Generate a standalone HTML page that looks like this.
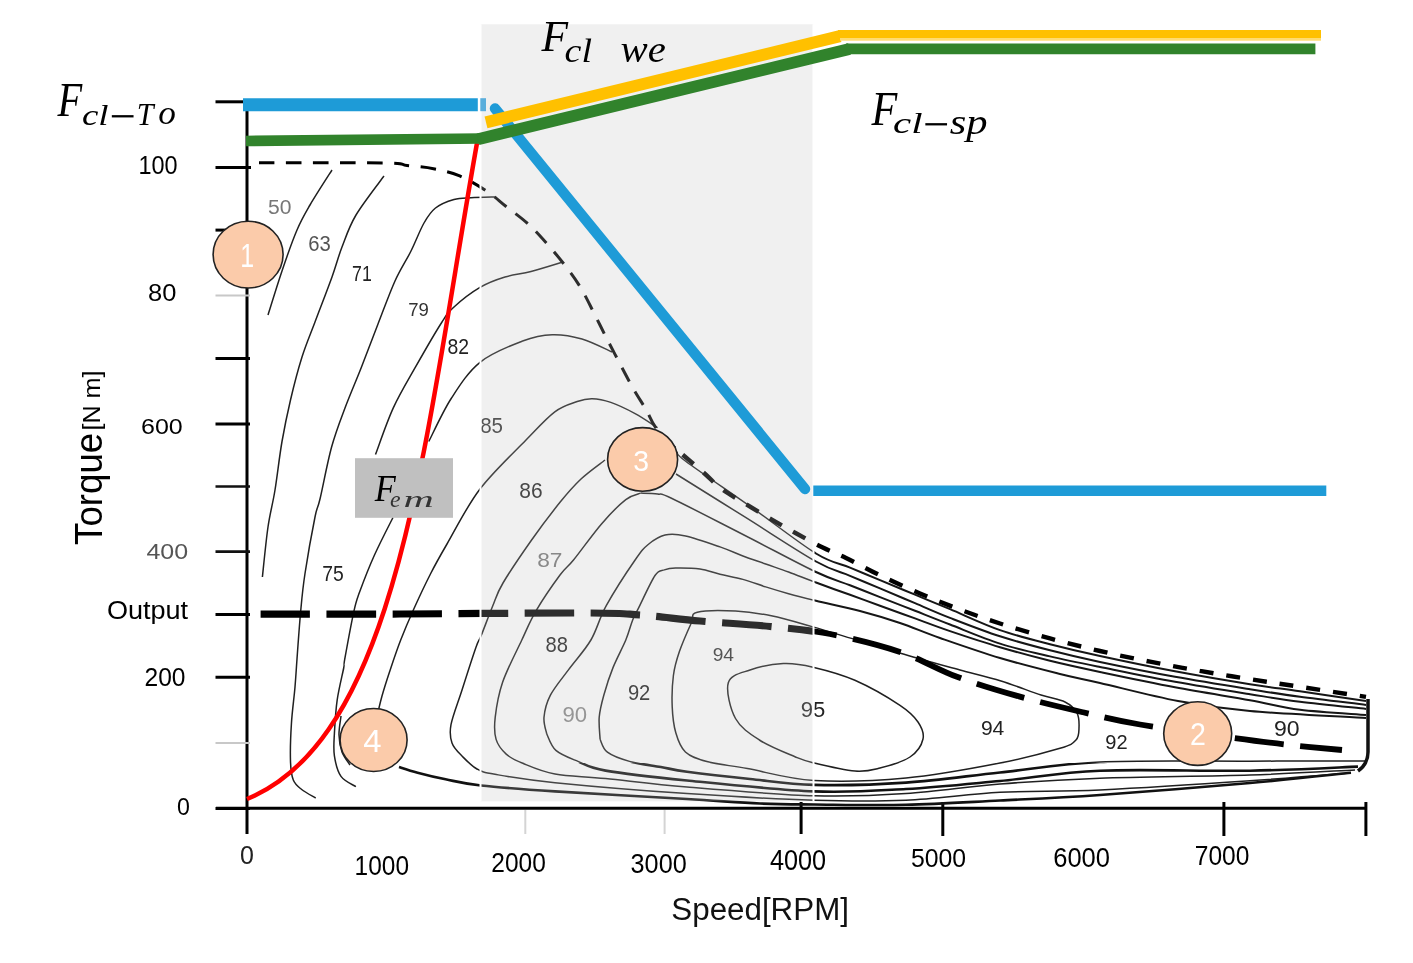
<!DOCTYPE html>
<html><head><meta charset="utf-8"><title>Torque-speed map</title>
<style>html,body{margin:0;padding:0;background:#fff;overflow:hidden}svg{display:block}</style></head>
<body><svg width="1413" height="963" viewBox="0 0 1413 963">
<rect width="1413" height="963" fill="#fff"/>
<defs><clipPath id="cL"><rect x="0" y="0" width="814" height="963"/></clipPath><clipPath id="cR"><rect x="814" y="0" width="600" height="963"/></clipPath><clipPath id="cT"><rect x="0" y="0" width="1413" height="763"/></clipPath><clipPath id="cB"><rect x="0" y="763" width="1413" height="200"/></clipPath></defs>
<g id="axes" stroke-linecap="butt">
<line x1="247" y1="100" x2="247" y2="834" stroke="#000" stroke-width="3"/>
<line x1="216" y1="808.3" x2="1366.5" y2="808.3" stroke="#000" stroke-width="3"/>
<line x1="215.5" y1="101.8" x2="243" y2="101.8" stroke="#000" stroke-width="3"/>
<line x1="215.5" y1="167.4" x2="251" y2="167.4" stroke="#000" stroke-width="3"/>
<line x1="215.5" y1="230.1" x2="247" y2="230.1" stroke="#000" stroke-width="3"/>
<line x1="215.5" y1="295.4" x2="250" y2="295.4" stroke="#c8c8c8" stroke-width="2"/>
<line x1="215.5" y1="358.6" x2="250" y2="358.6" stroke="#000" stroke-width="3"/>
<line x1="215.5" y1="423.9" x2="250" y2="423.9" stroke="#000" stroke-width="3"/>
<line x1="215.5" y1="486.5" x2="250" y2="486.5" stroke="#111" stroke-width="2.6"/>
<line x1="215.5" y1="551.6" x2="250" y2="551.6" stroke="#111" stroke-width="2.6"/>
<line x1="215.5" y1="614.5" x2="250" y2="614.5" stroke="#000" stroke-width="3"/>
<line x1="215.5" y1="677.3" x2="250" y2="677.3" stroke="#000" stroke-width="3"/>
<line x1="215.5" y1="743.0" x2="250" y2="743.0" stroke="#c8c8c8" stroke-width="2"/>
<line x1="215.5" y1="808.4" x2="250" y2="808.4" stroke="#000" stroke-width="3"/>
<line x1="525.3" y1="810" x2="525.3" y2="834" stroke="#d4d4d4" stroke-width="2"/>
<line x1="664.6" y1="810" x2="664.6" y2="834" stroke="#d4d4d4" stroke-width="2"/>
<line x1="801.1" y1="802" x2="801.1" y2="834" stroke="#000" stroke-width="3"/>
<line x1="942.8" y1="802" x2="942.8" y2="836" stroke="#000" stroke-width="3"/>
<line x1="1223.9" y1="802" x2="1223.9" y2="836" stroke="#000" stroke-width="3"/>
<line x1="1365.9" y1="802" x2="1365.9" y2="836" stroke="#000" stroke-width="3"/>
</g>
<g id="contours" fill="none" stroke="#202020" stroke-width="1.5" stroke-linejoin="round">
<path d="M332.0,170.0C328.3,175.8 315.8,195.0 310.0,205.0C304.2,215.0 301.7,219.0 297.0,230.0C292.3,241.0 286.8,256.8 282.0,271.0C277.2,285.2 270.3,307.7 268.0,315.0"/>
<path d="M384.0,176.0C379.3,182.5 363.0,203.2 356.0,215.0C349.0,226.8 346.0,236.7 342.0,247.0C338.0,257.3 336.5,264.5 332.0,277.0C327.5,289.5 320.0,308.7 315.0,322.0C310.0,335.3 306.1,344.0 302.0,357.0C297.9,370.0 293.8,385.9 290.5,400.0C287.2,414.1 284.6,426.5 282.0,441.5C279.4,456.5 277.3,475.8 275.0,490.0C272.7,504.2 270.1,512.5 268.0,527.0C265.9,541.5 263.3,568.7 262.4,577.0"/>
<path d="M495.0,197.0C491.0,197.1 477.8,197.3 471.0,197.7C464.2,198.1 459.9,197.8 454.0,199.5C448.1,201.2 440.5,204.1 435.5,208.0C430.5,211.9 428.1,215.8 424.0,223.0C419.9,230.2 415.8,241.3 411.0,251.0C406.2,260.7 400.5,268.8 395.0,281.0C389.5,293.2 383.6,309.7 378.0,324.0C372.4,338.3 367.0,353.0 361.5,367.0C356.0,381.0 350.0,394.7 345.0,408.0C340.0,421.3 335.8,431.8 331.6,447.0C327.4,462.2 322.8,487.3 320.0,499.0C317.2,510.7 317.5,504.6 315.0,517.0C312.5,529.4 307.4,557.8 305.0,573.5C302.6,589.2 302.0,596.8 300.7,611.0C299.4,625.2 297.9,646.3 297.0,659.0C296.1,671.7 295.9,676.2 295.0,687.0C294.1,697.8 292.1,711.6 291.4,724.0C290.6,736.4 290.2,752.2 290.5,761.5C290.8,770.8 291.4,775.3 293.3,780.0C295.2,784.7 298.0,786.5 301.7,789.5C305.4,792.5 313.4,796.6 315.7,798.0"/>
<path d="M563.0,262.0C557.7,263.6 540.7,269.0 531.0,271.5C521.3,274.0 513.5,274.4 505.0,277.0C496.5,279.6 488.5,282.4 480.0,287.4C471.5,292.4 460.3,301.2 454.0,307.0C447.7,312.8 448.4,312.1 442.0,322.0C435.6,331.9 423.8,352.4 415.7,366.7C407.6,381.0 400.0,393.3 393.3,407.9C386.6,422.5 378.5,446.7 375.5,454.5"/>
<path d="M393.0,517.5C389.9,523.7 380.2,542.4 374.6,554.8C369.0,567.2 363.0,582.8 359.6,592.1C356.2,601.4 356.5,599.6 354.0,610.8C351.5,622.0 346.4,649.9 344.7,659.4C343.0,668.9 344.9,661.3 343.7,668.0C342.4,674.7 338.8,688.9 337.2,699.8C335.6,710.7 334.9,724.1 334.4,733.5C333.9,742.9 333.3,748.8 334.4,755.9C335.5,763.0 337.4,771.3 341.0,776.4C344.6,781.5 353.4,785.0 355.9,786.7"/>
<path d="M341.0,716.0C340.7,719.2 338.8,729.0 339.0,735.0C339.2,741.0 340.2,747.0 342.0,752.0C343.8,757.0 348.7,762.8 350.0,765.0"/>
<path d="M612.0,352.0C607.0,349.8 592.0,341.9 582.0,339.0C572.0,336.1 562.2,334.4 552.3,334.7C542.4,335.0 534.6,336.4 522.6,341.0C510.6,345.6 491.9,352.7 480.0,362.3C468.1,371.9 459.7,385.3 451.2,398.5C442.7,411.7 432.5,434.3 428.8,441.5"/>
<path d="M657.6,427.7C653.9,425.4 642.9,417.8 635.1,413.6C627.3,409.4 618.0,404.9 610.8,402.4C603.6,399.9 597.7,398.8 592.1,398.7C586.5,398.6 583.4,399.3 577.2,401.5C571.0,403.7 563.3,405.4 554.8,411.8C546.3,418.2 538.5,427.1 526.0,440.0C513.5,452.9 493.2,471.7 480.0,489.0C466.8,506.3 455.2,529.9 447.0,544.0C438.8,558.1 436.2,562.7 430.7,573.5C425.2,584.3 418.8,597.9 413.8,609.0C408.8,620.1 404.8,629.5 400.7,640.0C396.6,650.5 392.6,662.7 389.5,672.0C386.4,681.3 383.9,689.3 382.0,696.0C380.1,702.7 378.7,709.3 378.0,712.0"/>
<path d="M605.0,460.0C601.0,463.2 588.5,471.9 581.0,479.0C573.5,486.1 568.2,492.1 560.0,502.3C551.8,512.5 541.1,526.5 531.6,540.0C522.1,553.5 509.5,572.0 503.0,583.0C496.5,594.0 496.3,597.3 492.7,606.0C489.1,614.7 484.1,628.4 481.3,635.3C478.5,642.2 479.1,638.3 475.9,647.4C472.7,656.5 466.2,676.8 462.1,689.7C458.0,702.6 452.7,715.7 451.0,724.6C449.3,733.5 450.2,737.8 452.0,743.0C453.8,748.2 457.8,751.7 462.0,756.0C466.2,760.3 471.5,766.0 477.0,769.0C482.5,772.0 482.0,772.0 495.0,774.3C508.0,776.6 523.0,779.5 555.0,782.7C587.0,785.9 643.8,790.7 687.0,793.6C730.2,796.5 777.5,799.1 814.0,800.2C850.5,801.3 875.0,801.5 906.0,800.2C937.0,798.9 967.7,794.0 1000.0,792.3C1032.3,790.6 1058.3,791.8 1100.0,789.9C1141.7,788.0 1208.2,783.7 1250.0,780.8C1291.8,777.9 1334.2,774.1 1351.0,772.7"/>
<path d="M640.7,493.1C638.2,494.2 632.3,494.5 625.8,499.6C619.3,504.7 610.2,513.8 601.5,523.9C592.8,534.0 580.4,551.5 573.5,560.0C566.6,568.5 566.2,566.6 560.0,575.0C553.8,583.4 542.7,599.5 536.3,610.3C529.9,621.1 527.4,628.0 521.8,640.0C516.2,652.0 507.0,669.4 502.6,682.3C498.2,695.2 496.3,707.8 495.2,717.3C494.1,726.8 494.3,733.3 496.1,739.4C497.9,745.5 501.8,750.1 506.2,754.1C510.6,758.1 514.7,760.0 522.8,763.3C530.9,766.6 541.2,771.5 555.0,774.0C568.8,776.5 583.6,776.3 605.6,778.5C627.6,780.7 652.3,784.1 687.0,787.0C721.7,789.9 777.5,794.7 814.0,795.8C850.5,796.9 875.0,795.6 906.0,793.6C937.0,791.6 967.7,786.6 1000.0,784.0C1032.3,781.4 1058.3,779.7 1100.0,778.2C1141.7,776.7 1207.5,776.4 1250.0,775.0C1292.5,773.6 1337.5,770.8 1355.0,770.0"/>
<path d="M697.3,612.2C704.7,610.2 723.2,610.4 735.5,611.0C747.8,611.6 758.5,613.2 771.3,615.8C784.0,618.4 797.2,622.4 812.0,626.6C826.8,630.8 842.0,635.6 860.0,641.0C878.0,646.4 903.3,654.2 920.0,659.0C936.7,663.8 946.5,666.3 960.0,670.0C973.5,673.7 987.5,676.8 1001.0,681.0C1014.5,685.2 1030.3,691.5 1041.0,695.0C1051.7,698.5 1059.0,699.0 1065.0,702.0C1071.0,705.0 1074.7,708.7 1077.0,713.0C1079.3,717.3 1079.2,723.5 1079.0,728.0C1078.8,732.5 1079.2,736.6 1076.0,740.0C1072.8,743.4 1072.7,744.5 1060.0,748.3C1047.3,752.1 1025.7,758.0 1000.0,763.0C974.3,768.0 937.0,775.1 906.0,778.0C875.0,780.9 840.4,782.1 814.0,780.5C787.6,778.9 765.2,771.8 747.4,768.6C729.5,765.4 717.2,764.3 706.9,761.5C696.6,758.7 690.6,756.8 685.4,752.0C680.2,747.2 678.0,740.4 675.8,732.8C673.6,725.2 672.6,716.1 672.2,706.6C671.8,697.1 672.2,684.7 673.4,675.5C674.6,666.3 676.4,660.4 679.4,651.6C682.4,642.9 688.3,629.6 691.3,623.0C694.3,616.4 689.9,614.2 697.3,612.2Z"/>
<path d="M728.3,682.7C730.7,674.6 740.8,673.2 750.0,670.0C759.2,666.8 772.8,664.1 783.3,663.6C793.8,663.1 801.1,664.4 813.0,667.2C824.9,670.0 840.4,673.9 854.9,680.3C869.4,686.7 889.5,698.4 900.0,705.4C910.5,712.4 914.2,716.4 918.0,722.0C921.8,727.6 924.3,733.2 923.0,739.0C921.7,744.8 917.2,752.2 910.0,757.0C902.8,761.8 889.2,765.7 880.0,768.0C870.8,770.3 866.2,771.9 855.0,771.0C843.8,770.1 823.0,765.1 813.0,762.7C803.0,760.3 803.9,760.5 795.0,756.7C786.1,752.9 769.3,746.4 759.4,740.0C749.5,733.6 740.7,728.0 735.5,718.5C730.3,709.0 725.9,690.8 728.3,682.7Z"/>
</g>
<g id="upperL" fill="none" stroke="#202020" stroke-width="1.5" stroke-linejoin="round" clip-path="url(#cL)">
<path d="M677.0,452.0C678.5,453.6 673.7,452.3 686.0,461.5C698.3,470.7 729.3,491.7 751.0,507.0C772.7,522.3 799.5,543.4 816.0,553.5C832.5,563.6 839.3,563.2 850.0,567.6C860.7,572.1 869.2,575.6 880.0,580.1C890.8,584.6 903.3,589.8 915.0,594.7C926.7,599.5 935.8,603.3 950.0,609.2C964.2,615.1 983.3,624.3 1000.0,630.1C1016.7,635.9 1033.3,639.9 1050.0,644.2C1066.7,648.5 1079.2,651.5 1100.0,656.0C1120.8,660.5 1150.0,666.6 1175.0,671.3C1200.0,676.0 1229.2,680.9 1250.0,684.2C1270.8,687.5 1280.7,688.5 1300.0,691.3C1319.3,694.1 1355.0,699.3 1366.0,700.9"/>
<path d="M676.0,474.0C687.7,481.3 722.7,503.1 746.0,517.7C769.3,532.3 798.7,551.8 816.0,561.5C833.3,571.2 839.3,571.3 850.0,575.8C860.7,580.3 869.2,583.9 880.0,588.4C890.8,593.0 903.3,598.2 915.0,603.2C926.7,608.1 935.8,612.4 950.0,617.9C964.2,623.4 983.3,630.9 1000.0,636.3C1016.7,641.7 1033.3,646.0 1050.0,650.3C1066.7,654.6 1079.2,657.6 1100.0,662.0C1120.8,666.4 1150.0,672.3 1175.0,676.8C1200.0,681.3 1229.2,685.9 1250.0,689.2C1270.8,692.5 1280.7,694.2 1300.0,696.8C1319.3,699.4 1355.0,703.5 1366.0,704.9"/>
<path d="M640.7,493.1C643.5,493.2 652.4,493.1 657.6,494.0C662.8,494.9 657.6,491.7 672.0,498.5C686.4,505.3 720.0,522.8 744.0,535.0C768.0,547.2 798.3,563.6 816.0,572.0C833.7,580.4 839.3,581.1 850.0,585.3C860.7,589.5 869.2,592.8 880.0,597.1C890.8,601.3 903.3,606.2 915.0,610.8C926.7,615.4 935.8,619.1 950.0,624.5C964.2,630.0 983.3,638.3 1000.0,643.6C1016.7,648.9 1033.3,652.5 1050.0,656.4C1066.7,660.3 1079.2,662.8 1100.0,667.0C1120.8,671.2 1150.0,677.3 1175.0,681.8C1200.0,686.3 1229.2,690.9 1250.0,694.2C1270.8,697.5 1280.7,699.3 1300.0,701.8C1319.3,704.2 1355.0,707.7 1366.0,708.9"/>
<path d="M546.7,733.8C546.2,731.0 543.4,723.7 544.0,717.3C544.6,710.9 546.3,703.2 550.4,695.2C554.5,687.2 562.0,678.6 568.8,669.4C575.5,660.2 584.6,650.7 590.9,640.0C597.2,629.3 599.0,618.7 606.4,605.4C613.8,592.1 628.1,570.1 635.1,560.0C642.1,549.9 643.2,548.6 648.2,544.5C653.2,540.4 658.8,536.5 665.0,535.1C671.2,533.7 676.4,534.0 685.6,536.0C694.8,538.0 710.5,543.6 720.0,546.9C729.5,550.2 735.3,553.1 742.9,556.0C750.5,558.9 758.1,561.3 765.7,564.0C773.3,566.7 780.2,568.9 788.6,572.0C797.0,575.1 805.8,578.7 816.0,582.5C826.2,586.3 839.3,591.0 850.0,594.8C860.7,598.7 869.2,601.8 880.0,605.7C890.8,609.6 903.3,614.2 915.0,618.4C926.7,622.7 935.8,626.3 950.0,631.1C964.2,635.9 983.3,642.3 1000.0,647.2C1016.7,652.1 1033.3,656.6 1050.0,660.8C1066.7,664.9 1079.2,667.6 1100.0,672.0C1120.8,676.4 1150.0,682.6 1175.0,687.3C1200.0,692.0 1229.2,696.5 1250.0,700.2C1270.8,704.0 1280.7,707.3 1300.0,709.8C1319.3,712.2 1355.0,714.0 1366.0,714.9"/>
<path d="M600.1,739.4C600.0,735.7 598.6,724.7 599.2,717.3C599.8,709.9 601.5,703.5 603.8,695.2C606.1,686.9 609.3,676.8 613.0,667.6C616.7,658.4 622.5,647.9 625.8,640.0C629.0,632.1 630.5,625.5 632.5,620.4C634.5,615.3 634.2,616.7 638.0,609.2C641.8,601.7 650.6,582.0 655.0,575.5C659.4,569.0 660.9,571.1 664.3,569.9C667.7,568.6 669.5,568.1 675.5,568.0C681.5,567.9 692.6,568.0 700.0,569.0C707.4,570.0 712.9,572.6 720.0,574.3C727.1,576.0 735.3,577.3 742.9,579.4C750.5,581.5 758.1,584.5 765.7,586.9C773.3,589.3 780.2,591.4 788.6,593.7C797.0,596.0 804.1,597.8 816.0,600.7C827.9,603.6 846.0,607.3 860.0,611.0C874.0,614.7 886.7,618.5 900.0,623.0C913.3,627.5 923.3,632.2 940.0,638.0C956.7,643.8 980.0,652.0 1000.0,658.0C1020.0,664.0 1043.3,669.8 1060.0,674.0C1076.7,678.2 1080.3,678.5 1100.0,683.0C1119.7,687.5 1153.0,696.3 1178.0,701.0C1203.0,705.7 1218.7,708.2 1250.0,711.0C1281.3,713.8 1346.7,716.8 1366.0,718.0"/>
</g>
<g id="upperR" fill="none" stroke="#161616" stroke-width="2" stroke-linejoin="round" clip-path="url(#cR)">
<path d="M677.0,452.0C678.5,453.6 673.7,452.3 686.0,461.5C698.3,470.7 729.3,491.7 751.0,507.0C772.7,522.3 799.5,543.4 816.0,553.5C832.5,563.6 839.3,563.2 850.0,567.6C860.7,572.1 869.2,575.6 880.0,580.1C890.8,584.6 903.3,589.8 915.0,594.7C926.7,599.5 935.8,603.3 950.0,609.2C964.2,615.1 983.3,624.3 1000.0,630.1C1016.7,635.9 1033.3,639.9 1050.0,644.2C1066.7,648.5 1079.2,651.5 1100.0,656.0C1120.8,660.5 1150.0,666.6 1175.0,671.3C1200.0,676.0 1229.2,680.9 1250.0,684.2C1270.8,687.5 1280.7,688.5 1300.0,691.3C1319.3,694.1 1355.0,699.3 1366.0,700.9"/>
<path d="M676.0,474.0C687.7,481.3 722.7,503.1 746.0,517.7C769.3,532.3 798.7,551.8 816.0,561.5C833.3,571.2 839.3,571.3 850.0,575.8C860.7,580.3 869.2,583.9 880.0,588.4C890.8,593.0 903.3,598.2 915.0,603.2C926.7,608.1 935.8,612.4 950.0,617.9C964.2,623.4 983.3,630.9 1000.0,636.3C1016.7,641.7 1033.3,646.0 1050.0,650.3C1066.7,654.6 1079.2,657.6 1100.0,662.0C1120.8,666.4 1150.0,672.3 1175.0,676.8C1200.0,681.3 1229.2,685.9 1250.0,689.2C1270.8,692.5 1280.7,694.2 1300.0,696.8C1319.3,699.4 1355.0,703.5 1366.0,704.9"/>
<path d="M640.7,493.1C643.5,493.2 652.4,493.1 657.6,494.0C662.8,494.9 657.6,491.7 672.0,498.5C686.4,505.3 720.0,522.8 744.0,535.0C768.0,547.2 798.3,563.6 816.0,572.0C833.7,580.4 839.3,581.1 850.0,585.3C860.7,589.5 869.2,592.8 880.0,597.1C890.8,601.3 903.3,606.2 915.0,610.8C926.7,615.4 935.8,619.1 950.0,624.5C964.2,630.0 983.3,638.3 1000.0,643.6C1016.7,648.9 1033.3,652.5 1050.0,656.4C1066.7,660.3 1079.2,662.8 1100.0,667.0C1120.8,671.2 1150.0,677.3 1175.0,681.8C1200.0,686.3 1229.2,690.9 1250.0,694.2C1270.8,697.5 1280.7,699.3 1300.0,701.8C1319.3,704.2 1355.0,707.7 1366.0,708.9"/>
<path d="M546.7,733.8C546.2,731.0 543.4,723.7 544.0,717.3C544.6,710.9 546.3,703.2 550.4,695.2C554.5,687.2 562.0,678.6 568.8,669.4C575.5,660.2 584.6,650.7 590.9,640.0C597.2,629.3 599.0,618.7 606.4,605.4C613.8,592.1 628.1,570.1 635.1,560.0C642.1,549.9 643.2,548.6 648.2,544.5C653.2,540.4 658.8,536.5 665.0,535.1C671.2,533.7 676.4,534.0 685.6,536.0C694.8,538.0 710.5,543.6 720.0,546.9C729.5,550.2 735.3,553.1 742.9,556.0C750.5,558.9 758.1,561.3 765.7,564.0C773.3,566.7 780.2,568.9 788.6,572.0C797.0,575.1 805.8,578.7 816.0,582.5C826.2,586.3 839.3,591.0 850.0,594.8C860.7,598.7 869.2,601.8 880.0,605.7C890.8,609.6 903.3,614.2 915.0,618.4C926.7,622.7 935.8,626.3 950.0,631.1C964.2,635.9 983.3,642.3 1000.0,647.2C1016.7,652.1 1033.3,656.6 1050.0,660.8C1066.7,664.9 1079.2,667.6 1100.0,672.0C1120.8,676.4 1150.0,682.6 1175.0,687.3C1200.0,692.0 1229.2,696.5 1250.0,700.2C1270.8,704.0 1280.7,707.3 1300.0,709.8C1319.3,712.2 1355.0,714.0 1366.0,714.9"/>
<path d="M600.1,739.4C600.0,735.7 598.6,724.7 599.2,717.3C599.8,709.9 601.5,703.5 603.8,695.2C606.1,686.9 609.3,676.8 613.0,667.6C616.7,658.4 622.5,647.9 625.8,640.0C629.0,632.1 630.5,625.5 632.5,620.4C634.5,615.3 634.2,616.7 638.0,609.2C641.8,601.7 650.6,582.0 655.0,575.5C659.4,569.0 660.9,571.1 664.3,569.9C667.7,568.6 669.5,568.1 675.5,568.0C681.5,567.9 692.6,568.0 700.0,569.0C707.4,570.0 712.9,572.6 720.0,574.3C727.1,576.0 735.3,577.3 742.9,579.4C750.5,581.5 758.1,584.5 765.7,586.9C773.3,589.3 780.2,591.4 788.6,593.7C797.0,596.0 804.1,597.8 816.0,600.7C827.9,603.6 846.0,607.3 860.0,611.0C874.0,614.7 886.7,618.5 900.0,623.0C913.3,627.5 923.3,632.2 940.0,638.0C956.7,643.8 980.0,652.0 1000.0,658.0C1020.0,664.0 1043.3,669.8 1060.0,674.0C1076.7,678.2 1080.3,678.5 1100.0,683.0C1119.7,687.5 1153.0,696.3 1178.0,701.0C1203.0,705.7 1218.7,708.2 1250.0,711.0C1281.3,713.8 1346.7,716.8 1366.0,718.0"/>
</g>
<g id="bottomT" fill="none" stroke="#202020" stroke-width="1.5" stroke-linejoin="round" clip-path="url(#cT)">
<path d="M399.0,767.0C402.1,768.0 409.8,770.7 417.6,772.7C425.4,774.8 435.0,777.2 445.6,779.3C456.2,781.4 462.8,783.5 481.0,785.5C499.2,787.5 520.7,789.1 555.0,791.4C589.3,793.6 652.8,797.0 687.0,799.0C721.2,801.0 738.8,802.6 760.0,803.5C781.2,804.4 789.7,804.3 814.0,804.5C838.3,804.7 875.0,805.5 906.0,804.8C937.0,804.1 967.7,802.1 1000.0,800.5C1032.3,798.9 1058.3,797.9 1100.0,795.0C1141.7,792.1 1208.2,786.7 1250.0,783.0C1291.8,779.3 1334.2,774.4 1351.0,772.7"/>
<path d="M546.7,733.8C548.2,736.6 550.7,745.8 555.9,750.4C561.1,755.0 569.7,758.0 578.0,761.4C586.3,764.8 587.4,767.4 605.6,770.6C623.8,773.8 652.3,777.0 687.0,780.5C721.7,784.0 777.5,790.0 814.0,791.4C850.5,792.8 875.0,790.7 906.0,789.0C937.0,787.3 967.7,784.0 1000.0,781.0C1032.3,778.0 1058.3,772.4 1100.0,770.7C1141.7,769.0 1207.0,771.4 1250.0,770.7C1293.0,770.0 1340.0,767.3 1358.0,766.6"/>
<path d="M600.1,739.4C601.3,741.5 602.5,748.5 607.4,752.2C612.3,755.9 620.6,758.9 629.5,761.4C638.4,763.9 651.2,765.3 660.8,767.0C670.4,768.7 672.1,769.7 687.0,771.7C701.9,773.7 728.8,776.8 750.0,779.0C771.2,781.2 788.0,784.3 814.0,784.9C840.0,785.5 875.0,784.7 906.0,782.6C937.0,780.5 967.7,775.9 1000.0,772.5C1032.3,769.1 1058.3,763.9 1100.0,762.0C1141.7,760.1 1205.7,761.4 1250.0,761.2C1294.3,761.0 1346.7,761.0 1366.0,761.0"/>
</g>
<g id="bottomB" fill="none" stroke="#111" stroke-width="2.6" stroke-linejoin="round" clip-path="url(#cB)">
<path d="M399.0,767.0C402.1,768.0 409.8,770.7 417.6,772.7C425.4,774.8 435.0,777.2 445.6,779.3C456.2,781.4 462.8,783.5 481.0,785.5C499.2,787.5 520.7,789.1 555.0,791.4C589.3,793.6 652.8,797.0 687.0,799.0C721.2,801.0 738.8,802.6 760.0,803.5C781.2,804.4 789.7,804.3 814.0,804.5C838.3,804.7 875.0,805.5 906.0,804.8C937.0,804.1 967.7,802.1 1000.0,800.5C1032.3,798.9 1058.3,797.9 1100.0,795.0C1141.7,792.1 1208.2,786.7 1250.0,783.0C1291.8,779.3 1334.2,774.4 1351.0,772.7"/>
<path d="M546.7,733.8C548.2,736.6 550.7,745.8 555.9,750.4C561.1,755.0 569.7,758.0 578.0,761.4C586.3,764.8 587.4,767.4 605.6,770.6C623.8,773.8 652.3,777.0 687.0,780.5C721.7,784.0 777.5,790.0 814.0,791.4C850.5,792.8 875.0,790.7 906.0,789.0C937.0,787.3 967.7,784.0 1000.0,781.0C1032.3,778.0 1058.3,772.4 1100.0,770.7C1141.7,769.0 1207.0,771.4 1250.0,770.7C1293.0,770.0 1340.0,767.3 1358.0,766.6"/>
<path d="M600.1,739.4C601.3,741.5 602.5,748.5 607.4,752.2C612.3,755.9 620.6,758.9 629.5,761.4C638.4,763.9 651.2,765.3 660.8,767.0C670.4,768.7 672.1,769.7 687.0,771.7C701.9,773.7 728.8,776.8 750.0,779.0C771.2,781.2 788.0,784.3 814.0,784.9C840.0,785.5 875.0,784.7 906.0,782.6C937.0,780.5 967.7,775.9 1000.0,772.5C1032.3,769.1 1058.3,763.9 1100.0,762.0C1141.7,760.1 1205.7,761.4 1250.0,761.2C1294.3,761.0 1346.7,761.0 1366.0,761.0"/>
</g>
<path d="M1368,699 V752 Q1368,764 1358,771" fill="none" stroke="#111" stroke-width="3.5"/>
<path d="M259.0,162.7C280.0,162.8 360.3,162.5 385.0,163.0C409.7,163.5 398.9,164.6 407.0,165.5C415.1,166.4 424.8,167.0 433.5,168.7C442.2,170.4 450.2,172.0 459.0,175.7C467.8,179.3 478.2,185.5 486.0,190.6C493.8,195.7 498.6,200.5 505.5,206.0C512.4,211.5 520.5,217.1 527.5,223.4C534.5,229.7 540.9,236.9 547.2,244.0C553.5,251.1 559.8,258.6 565.4,265.9C571.0,273.2 576.0,280.0 580.8,287.9C585.6,295.8 589.8,304.9 594.0,313.1C598.2,321.3 601.8,328.9 606.0,337.0C610.2,345.1 614.6,353.7 619.0,362.0C623.4,370.3 627.8,379.0 632.3,387.0C636.8,395.0 642.3,403.2 646.3,410.0C650.2,416.8 651.0,421.5 656.0,428.0C661.0,434.5 672.7,445.5 676.0,449.0" fill="none" stroke="#000" stroke-width="3" stroke-dasharray="15.5 11.5"/>
<path d="M676.0,449.0C680.7,453.0 696.5,466.4 704.0,473.0C711.5,479.6 714.2,483.4 721.0,488.5C727.8,493.6 736.2,498.2 744.6,503.4C753.0,508.5 762.9,514.5 771.4,519.4C779.9,524.3 786.9,528.3 795.5,533.0C804.1,537.7 814.4,543.5 822.8,547.6C831.2,551.8 836.5,553.3 846.0,557.9C855.5,562.5 867.7,569.4 880.0,575.3C892.3,581.2 906.7,587.8 920.0,593.5C933.3,599.2 946.7,604.5 960.0,609.5C973.3,614.5 985.0,618.7 1000.0,623.5C1015.0,628.3 1033.3,633.8 1050.0,638.4C1066.7,643.0 1083.3,647.1 1100.0,651.0C1116.7,654.9 1133.3,658.4 1150.0,661.7C1166.7,665.0 1183.3,668.0 1200.0,670.9C1216.7,673.8 1233.3,676.6 1250.0,679.2C1266.7,681.9 1280.7,683.8 1300.0,686.8C1319.3,689.8 1355.0,695.2 1366.0,696.9" fill="none" stroke="#000" stroke-width="4.4" stroke-dasharray="14 13" stroke-dashoffset="18"/>
<path d="M260.6,614.2C283.8,614.2 345.1,614.2 400.0,614.0C454.9,613.8 550.0,612.8 590.0,613.0C630.0,613.2 621.7,613.7 640.0,615.0C658.3,616.3 678.3,619.1 700.0,621.0C721.7,622.9 748.3,624.3 770.0,626.5C791.7,628.7 808.3,629.8 830.0,634.0C851.7,638.2 878.8,644.9 900.0,652.0C921.2,659.1 937.2,669.4 957.0,676.8C976.8,684.2 998.0,690.5 1019.0,696.4C1040.0,702.3 1062.8,707.6 1083.0,712.3C1103.2,717.0 1114.8,720.2 1140.0,724.5C1165.2,728.8 1209.0,734.6 1234.0,738.0C1259.0,741.4 1272.0,743.0 1290.0,745.0C1308.0,747.0 1333.3,749.2 1342.0,750.0" fill="none" stroke="#000" stroke-width="7.2" stroke-dasharray="49.5 16.5" clip-path="url(#cL)"/>
<path d="M260.6,614.2C283.8,614.2 345.1,614.2 400.0,614.0C454.9,613.8 550.0,612.8 590.0,613.0C630.0,613.2 621.7,613.7 640.0,615.0C658.3,616.3 678.3,619.1 700.0,621.0C721.7,622.9 748.3,624.3 770.0,626.5C791.7,628.7 808.3,629.8 830.0,634.0C851.7,638.2 878.8,644.9 900.0,652.0C921.2,659.1 937.2,669.4 957.0,676.8C976.8,684.2 998.0,690.5 1019.0,696.4C1040.0,702.3 1062.8,707.6 1083.0,712.3C1103.2,717.0 1114.8,720.2 1140.0,724.5C1165.2,728.8 1209.0,734.6 1234.0,738.0C1259.0,741.4 1272.0,743.0 1290.0,745.0C1308.0,747.0 1333.3,749.2 1342.0,750.0" fill="none" stroke="#000" stroke-width="5.8" stroke-dasharray="49.5 16.5" clip-path="url(#cR)"/>
<text transform="translate(268.00,214.29) scale(0.9978,1)" font-family='"Liberation Sans", Arial, sans-serif' font-style="normal" font-size="21.13" fill="#777" >50</text>
<text transform="translate(308.20,250.77) scale(0.8995,1)" font-family='"Liberation Sans", Arial, sans-serif' font-style="normal" font-size="22.54" fill="#555" >63</text>
<text transform="translate(352.10,280.80) scale(0.7751,1)" font-family='"Liberation Sans", Arial, sans-serif' font-style="normal" font-size="22.90" fill="#222" >71</text>
<text transform="translate(408.20,316.22) scale(1.0058,1)" font-family='"Liberation Sans", Arial, sans-serif' font-style="normal" font-size="18.45" fill="#333" >79</text>
<text transform="translate(447.50,354.38) scale(0.8649,1)" font-family='"Liberation Sans", Arial, sans-serif' font-style="normal" font-size="22.39" fill="#222" >82</text>
<text transform="translate(480.20,432.88) scale(0.9172,1)" font-family='"Liberation Sans", Arial, sans-serif' font-style="normal" font-size="22.39" fill="#333" >85</text>
<text transform="translate(519.30,498.48) scale(0.9373,1)" font-family='"Liberation Sans", Arial, sans-serif' font-style="normal" font-size="22.39" fill="#222" >86</text>
<text transform="translate(537.20,566.89) scale(1.0746,1)" font-family='"Liberation Sans", Arial, sans-serif' font-style="normal" font-size="21.13" fill="#777" >87</text>
<text transform="translate(322.20,580.77) scale(0.8474,1)" font-family='"Liberation Sans", Arial, sans-serif' font-style="normal" font-size="22.86" fill="#222" >75</text>
<text transform="translate(545.60,651.88) scale(0.9068,1)" font-family='"Liberation Sans", Arial, sans-serif' font-style="normal" font-size="22.25" fill="#222" >88</text>
<text transform="translate(562.40,721.78) scale(1.0087,1)" font-family='"Liberation Sans", Arial, sans-serif' font-style="normal" font-size="21.97" fill="#888" >90</text>
<text transform="translate(627.90,700.48) scale(0.9068,1)" font-family='"Liberation Sans", Arial, sans-serif' font-style="normal" font-size="22.25" fill="#222" >92</text>
<text transform="translate(712.70,661.32) scale(1.0728,1)" font-family='"Liberation Sans", Arial, sans-serif' font-style="normal" font-size="17.89" fill="#333" >94</text>
<text transform="translate(800.70,716.69) scale(1.0378,1)" font-family='"Liberation Sans", Arial, sans-serif' font-style="normal" font-size="21.27" fill="#222" >95</text>
<text transform="translate(980.90,734.60) scale(1.0615,1)" font-family='"Liberation Sans", Arial, sans-serif' font-style="normal" font-size="19.86" fill="#222" >94</text>
<text transform="translate(1105.30,749.29) scale(0.9573,1)" font-family='"Liberation Sans", Arial, sans-serif' font-style="normal" font-size="20.99" fill="#222" >92</text>
<text transform="translate(1274.00,736.08) scale(1.0564,1)" font-family='"Liberation Sans", Arial, sans-serif' font-style="normal" font-size="21.83" fill="#222" >90</text>
<path d="M247,799 C399.2,736.7 423.9,441.7 477,143" fill="none" stroke="#ff0000" stroke-width="4.5" stroke-linecap="butt"/>
<rect x="480.5" y="24.3" width="333" height="777" fill="#bfbfbf" fill-opacity="0.235"/>
<path d="M480.5,24.3V801.3M813.5,24.3V801.3" stroke="#fff" stroke-width="2" fill="none"/>
<rect x="355" y="458.2" width="98" height="59.6" fill="#c0c0c0"/>
<path d="M243,104.7H477.8" stroke="#1e9bd7" stroke-width="13" fill="none"/>
<rect x="480.3" y="98.2" width="5.7" height="13" fill="#5aaedc"/>
<path d="M495,108.5 L805,489" stroke="#1e9bd7" stroke-width="10.5" fill="none" stroke-linecap="round"/>
<path d="M246,141 L481,138.5" stroke="#31832c" stroke-width="10.6" fill="none"/>
<path d="M478,139.2 L849.5,49.0" stroke="#31832c" stroke-width="11.8" fill="none"/>
<path d="M846,48.9 H1315.4" stroke="#31832c" stroke-width="10.7" fill="none"/>
<path d="M486,122.3 L840,36.1" stroke="#ffc000" stroke-width="12" fill="none"/>
<rect x="840" y="37.5" width="481" height="3.2" fill="#ffdb70"/>
<path d="M838,34 H1321" stroke="#ffc000" stroke-width="8" fill="none"/>
<path d="M813.3,490.8 H1326.3" stroke="#1e9bd7" stroke-width="10.5" fill="none"/>
<ellipse cx="248.1" cy="254.6" rx="35" ry="33.4" fill="#fbcbaa" stroke="#222" stroke-width="1.6"/>
<ellipse cx="373.6" cy="740" rx="33.5" ry="31.5" fill="#fbcbaa" stroke="#222" stroke-width="1.6"/>
<ellipse cx="642.6" cy="459.4" rx="35" ry="31.8" fill="#fbcbaa" stroke="#222" stroke-width="1.6"/>
<ellipse cx="1197.7" cy="733.6" rx="34" ry="31.8" fill="#fbcbaa" stroke="#222" stroke-width="1.6"/>
<text transform="translate(240.20,266.50) scale(0.7403,1)" font-family='"Liberation Sans", Arial, sans-serif' font-style="normal" font-size="33.77" fill="#fff" >1</text>
<text transform="translate(363.30,752.40) scale(1.0745,1)" font-family='"Liberation Sans", Arial, sans-serif' font-style="normal" font-size="30.58" fill="#fff" >4</text>
<text transform="translate(633.30,471.30) scale(0.9376,1)" font-family='"Liberation Sans", Arial, sans-serif' font-style="normal" font-size="30.28" fill="#fff" >3</text>
<text transform="translate(1190.00,745.00) scale(0.9091,1)" font-family='"Liberation Sans", Arial, sans-serif' font-style="normal" font-size="31.43" fill="#fff" >2</text>
<text transform="translate(138.50,174.43) scale(0.8818,1)" font-family='"Liberation Sans", Arial, sans-serif' font-style="normal" font-size="26.62" fill="#000" >100</text>
<text transform="translate(148.00,301.35) scale(1.0285,1)" font-family='"Liberation Sans", Arial, sans-serif' font-style="normal" font-size="24.79" fill="#000" >80</text>
<text transform="translate(141.00,434.47) scale(1.0970,1)" font-family='"Liberation Sans", Arial, sans-serif' font-style="normal" font-size="22.82" fill="#000" >600</text>
<text transform="translate(146.40,558.68) scale(1.1540,1)" font-family='"Liberation Sans", Arial, sans-serif' font-style="normal" font-size="21.69" fill="#555" >400</text>
<text transform="translate(144.50,686.14) scale(0.9578,1)" font-family='"Liberation Sans", Arial, sans-serif' font-style="normal" font-size="25.63" fill="#000" >200</text>
<text transform="translate(177.00,814.65) scale(0.9472,1)" font-family='"Liberation Sans", Arial, sans-serif' font-style="normal" font-size="24.51" fill="#000" >0</text>
<text transform="translate(240.00,863.74) scale(0.9753,1)" font-family='"Liberation Sans", Arial, sans-serif' font-style="normal" font-size="25.63" fill="#222" >0</text>
<text transform="translate(354.60,875.23) scale(0.8906,1)" font-family='"Liberation Sans", Arial, sans-serif' font-style="normal" font-size="27.46" fill="#000" >1000</text>
<text transform="translate(491.30,872.13) scale(0.8968,1)" font-family='"Liberation Sans", Arial, sans-serif' font-style="normal" font-size="27.32" fill="#000" >2000</text>
<text transform="translate(630.60,872.72) scale(0.8955,1)" font-family='"Liberation Sans", Arial, sans-serif' font-style="normal" font-size="28.17" fill="#000" >3000</text>
<text transform="translate(769.90,869.71) scale(0.8795,1)" font-family='"Liberation Sans", Arial, sans-serif' font-style="normal" font-size="28.73" fill="#000" >4000</text>
<text transform="translate(910.90,866.84) scale(0.9373,1)" font-family='"Liberation Sans", Arial, sans-serif' font-style="normal" font-size="26.48" fill="#000" >5000</text>
<text transform="translate(1053.20,866.73) scale(0.9544,1)" font-family='"Liberation Sans", Arial, sans-serif' font-style="normal" font-size="26.76" fill="#000" >6000</text>
<text transform="translate(1194.80,865.03) scale(0.9031,1)" font-family='"Liberation Sans", Arial, sans-serif' font-style="normal" font-size="27.18" fill="#000" >7000</text>
<text transform="translate(106.90,618.65) scale(1.0617,1)" font-family='"Liberation Sans", Arial, sans-serif' font-style="normal" font-size="25.49" fill="#000" >Output</text>
<text transform="translate(671.30,920.07) scale(0.9781,1)" font-family='"Liberation Sans", Arial, sans-serif' font-style="normal" font-size="32.04" fill="#111" >Speed[RPM]</text>
<g transform="translate(101.5,544.9) rotate(-90)"><text transform="translate(0.00,0.14) scale(0.9322,1)" font-family='"Liberation Sans", Arial, sans-serif' font-style="normal" font-size="39.33" fill="#000" >Torque</text><text transform="translate(114.30,-1.97) scale(1.0229,1)" font-family='"Liberation Sans", Arial, sans-serif' font-style="normal" font-size="24.62" fill="#000" >[N m]</text></g>
<text transform="translate(57.40,116.30) scale(0.8300,1)" font-family='"Liberation Serif", "Times New Roman", serif' font-style="italic" font-size="48.77" fill="#000" >F</text>
<text transform="translate(81.90,124.50) scale(1.2374,1)" font-family='"Liberation Serif", "Times New Roman", serif' font-style="italic" font-size="29.86" fill="#000" >cl</text>
<text x="109.6" y="131.7" font-family='"Liberation Serif", "Times New Roman", serif' font-size="46.7" fill="#000">−</text>
<text transform="translate(136.80,124.80) scale(0.9380,1)" font-family='"Liberation Serif", "Times New Roman", serif' font-style="italic" font-size="32.15" fill="#000" >T</text>
<text transform="translate(158.30,124.47) scale(1.0694,1)" font-family='"Liberation Serif", "Times New Roman", serif' font-style="italic" font-size="32.92" fill="#000" >o</text>
<text transform="translate(541.43,51.40) scale(0.9648,1)" font-family='"Liberation Serif", "Times New Roman", serif' font-style="italic" font-size="45.08" fill="#000" >F</text>
<text transform="translate(564.60,61.85) scale(1.1008,1)" font-family='"Liberation Serif", "Times New Roman", serif' font-style="italic" font-size="34.57" fill="#000" >cl</text>
<text transform="translate(620.60,61.82) scale(1.0646,1)" font-family='"Liberation Serif", "Times New Roman", serif' font-style="italic" font-size="38.33" fill="#000" >we</text>
<text transform="translate(871.42,124.50) scale(0.8658,1)" font-family='"Liberation Serif", "Times New Roman", serif' font-style="italic" font-size="48.77" fill="#000" >F</text>
<text transform="translate(893.00,132.70) scale(1.3657,1)" font-family='"Liberation Serif", "Times New Roman", serif' font-style="italic" font-size="30.00" fill="#000" >cl</text>
<text x="923" y="139.9" font-family='"Liberation Serif", "Times New Roman", serif' font-size="46.7" fill="#000">−</text>
<text transform="translate(949.70,133.65) scale(1.2167,1)" font-family='"Liberation Serif", "Times New Roman", serif' font-style="italic" font-size="35.00" fill="#000" >sp</text>
<text transform="translate(374.64,501.40) scale(0.9176,1)" font-family='"Liberation Serif", "Times New Roman", serif' font-style="italic" font-size="37.54" fill="#000" >F</text>
<text transform="translate(390.00,506.68) scale(1.0806,1)" font-family='"Liberation Serif", "Times New Roman", serif' font-style="italic" font-size="22.08" fill="#333" >e</text>
<text transform="translate(403.50,506.90) scale(1.8598,1)" font-family='"Liberation Serif", "Times New Roman", serif' font-style="italic" font-size="22.55" fill="#333" >m</text>
</svg></body></html>
